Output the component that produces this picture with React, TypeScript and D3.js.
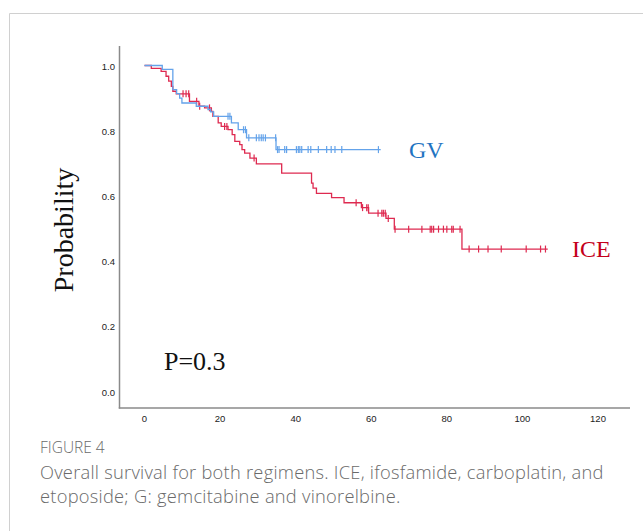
import * as d3 from 'd3';
import React, { useRef, useEffect } from 'react';

// GV arm: event times (months) and survival after each step
const gvTimes = [4.7, 7.5, 8.5, 9.3, 9.9, 13.7, 16.8, 17.5, 18.3, 23.0, 24.8, 27.0, 34.8];
const gvSurv = [0.988, 0.926, 0.914, 0.9, 0.885, 0.875, 0.865, 0.858, 0.844, 0.824, 0.803, 0.778, 0.742];
const gvEnd = 62.5;
const gvCensored = [22.1, 22.6, 26.2, 26.7, 27.6, 29.6, 30.3, 30.9, 31.4, 32.0, 34.7, 35.2, 35.6, 37.1, 37.6,
  40.2, 40.7, 41.1, 41.6, 43.3, 44.0, 46.0, 48.2, 49.4, 50.4, 52.2, 61.9];

// ICE arm
const iceTimes = [1.8, 4.4, 5.7, 6.4, 7.1, 7.5, 8.4, 11.9, 14.4, 15.9, 17.7, 18.1, 19.5, 20.3, 22.1, 23.2, 23.9,
  25.2, 25.8, 26.5, 27.9, 29.6, 36.3, 44.2, 44.6, 45.5, 49.5, 52.8, 57.4, 59.3, 63.9, 66.1, 84.0];
const iceSurv = [0.991, 0.982, 0.967, 0.952, 0.936, 0.921, 0.913, 0.89, 0.875, 0.87, 0.859, 0.844, 0.824, 0.813,
  0.803, 0.788, 0.767, 0.757, 0.742, 0.731, 0.716, 0.698, 0.67, 0.639, 0.624, 0.608, 0.595, 0.579, 0.564, 0.547,
  0.531, 0.498, 0.437];
const iceEnd = 106.7;
const iceCensored = [10.2, 11.0, 11.7, 13.8, 14.6, 17.2, 21.2, 21.8, 29.0, 56.0, 57.7, 58.8, 59.2, 61.8, 62.8, 63.2,
  63.7, 64.5, 66.3, 69.9, 73.4, 75.6, 76.0, 76.5, 77.8, 79.1, 80.0, 81.3, 81.7, 83.5, 85.9, 88.4, 90.9, 94.4,
  101.0, 104.8, 106.1];

const xTicks = [0, 20, 40, 60, 80, 100, 120];
const yTicks = [0, 0.2, 0.4, 0.6, 0.8, 1.0];

const captionTitle = 'FIGURE 4';
const captionLines = [
  'Overall survival for both regimens. ICE, ifosfamide, carboplatin, and',
  'etoposide; G: gemcitabine and vinorelbine.',
];

function KaplanMeier() {
  const svgRef = useRef<SVGSVGElement>(null);

  useEffect(() => {
    const width = 643;
    const height = 531;
    const svg = d3.select(svgRef.current);
    svg.selectAll('*').remove();

    const x = d3.scaleLinear().domain([0, 120]).range([144.5, 598]);
    const y = d3.scaleLinear().domain([0, 1]).range([391.5, 65.5]);

    /* frame */
    svg.append('path')
      .attr('d', `M9.5,${height} V13.5 H${width}`)
      .attr('fill', 'none')
      .attr('stroke', '#d0d0d0')
      .attr('stroke-width', 1);

    /* axes */
    const axisColor = '#8a8a8a';
    svg.append('line')
      .attr('x1', 119.5).attr('x2', 119.5).attr('y1', 46).attr('y2', 408.5)
      .attr('stroke', axisColor).attr('stroke-width', 1.5);
    svg.append('line')
      .attr('x1', 118.75).attr('x2', 630).attr('y1', 408).attr('y2', 408)
      .attr('stroke', axisColor).attr('stroke-width', 1.5);

    const tickFont = '"Liberation Sans", Arial, sans-serif';
    svg.append('g')
      .selectAll('text')
      .data(yTicks)
      .enter()
      .append('text')
      .attr('x', 115)
      .attr('y', (d) => y(d) + 0.8)
      .attr('dy', '0.35em')
      .attr('text-anchor', 'end')
      .attr('font-family', tickFont)
      .attr('font-size', 9.5)
      .attr('fill', '#222')
      .text((d) => d3.format('.1f')(d));

    svg.append('g')
      .selectAll('text')
      .data(xTicks)
      .enter()
      .append('text')
      .attr('x', (d) => x(d))
      .attr('y', 419)
      .attr('dy', '0.35em')
      .attr('text-anchor', 'middle')
      .attr('font-family', tickFont)
      .attr('font-size', 9.5)
      .attr('fill', '#222')
      .text((d) => d);

    /* curves */
    const line = d3.line<[number, number]>()
      .x((d) => x(d[0]))
      .y((d) => y(d[1]))
      .curve(d3.curveStepAfter);

    const series = [
      { times: iceTimes, surv: iceSurv, end: iceEnd, cens: iceCensored, color: '#de2a50' },
      { times: gvTimes, surv: gvSurv, end: gvEnd, cens: gvCensored, color: '#64a3ea' },
    ];

    series.forEach((s) => {
      const pts: [number, number][] = [[0, 1]];
      s.times.forEach((t, i) => pts.push([t, s.surv[i]]));
      pts.push([s.end, s.surv[s.surv.length - 1]]);

      svg.append('path')
        .attr('d', line(pts))
        .attr('fill', 'none')
        .attr('stroke', s.color)
        .attr('stroke-width', 1.3);

      const survAt = (t: number) => {
        let v = 1;
        s.times.forEach((et, i) => { if (et <= t) v = s.surv[i]; });
        return v;
      };

      svg.append('g')
        .selectAll('line')
        .data(s.cens)
        .enter()
        .append('line')
        .attr('x1', (d) => x(d))
        .attr('x2', (d) => x(d))
        .attr('y1', (d) => y(survAt(d)) - 3.5)
        .attr('y2', (d) => y(survAt(d)) + 3.5)
        .attr('stroke', s.color)
        .attr('stroke-width', 1.2);
    });

    /* labels */
    const serif = '"Liberation Serif", "Times New Roman", serif';
    svg.append('text')
      .attr('transform', 'translate(73,230) rotate(-90)')
      .attr('text-anchor', 'middle')
      .attr('font-family', serif)
      .attr('font-size', 28)
      .attr('fill', '#111')
      .text('Probability');

    svg.append('text')
      .attr('x', 409).attr('y', 158)
      .attr('font-family', serif).attr('font-size', 24)
      .attr('fill', '#1f74c2')
      .text('GV');

    svg.append('text')
      .attr('x', 572).attr('y', 256.5)
      .attr('font-family', serif).attr('font-size', 24)
      .attr('fill', '#c4001a')
      .text('ICE');

    svg.append('text')
      .attr('x', 164).attr('y', 370)
      .attr('font-family', serif).attr('font-size', 26)
      .attr('fill', '#111')
      .text('P=0.3');

    /* caption */
    const capFont = '"Open Sans", sans-serif';
    svg.append('text')
      .attr('x', 40).attr('y', 453)
      .attr('font-family', capFont).attr('font-size', 15.5)
      .attr('font-weight', 300)
      .attr('fill', '#6a6a6a')
      .text(captionTitle);

    svg.append('g')
      .selectAll('text')
      .data(captionLines)
      .enter()
      .append('text')
      .attr('x', 40)
      .attr('y', (d, i) => 479 + i * 24)
      .attr('font-family', capFont)
      .attr('font-size', 18.3)
      .attr('font-weight', 300)
      .attr('letter-spacing', 0.25)
      .attr('fill', '#6a6a6a')
      .text((d) => d);
  }, []);

  return (
    <svg
      ref={svgRef}
      width={643}
      height={531}
      style={{ position: 'absolute', left: 0, top: 0, display: 'block', background: '#fff' }}
    ></svg>
  );
}

export default function App() {
  return <KaplanMeier />;
}
